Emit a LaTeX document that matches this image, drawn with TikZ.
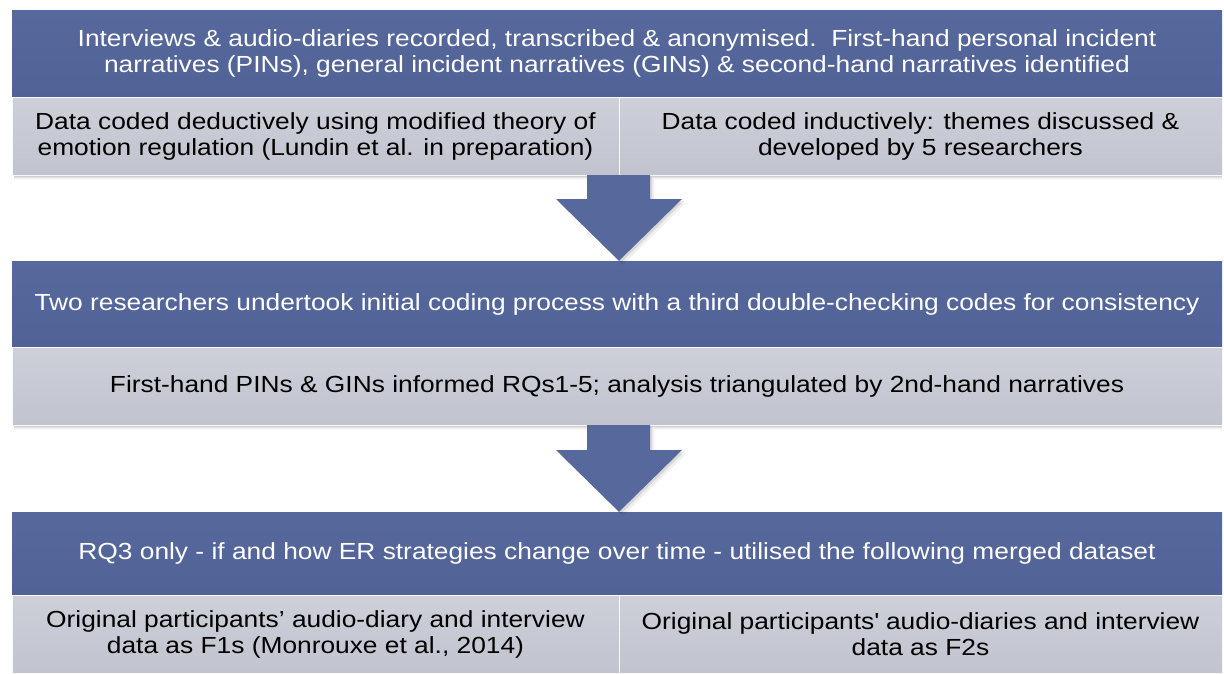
\documentclass[tikz,border=0pt]{standalone}
\usepackage{fontspec}
\setmainfont[FakeStretch=1.13]{Liberation Sans}
\definecolor{darkblue}{RGB}{86,104,156}
\definecolor{darkblue2}{RGB}{80,98,150}
\definecolor{lightg}{RGB}{205,208,217}
\definecolor{lightg2}{RGB}{193,196,206}
\begin{document}
\begin{tikzpicture}[x=1pt,y=-1pt,
  darkbox/.style={rectangle, inner sep=0pt, text=white, align=center,
    top color=darkblue, bottom color=darkblue2, font=\fontsize{23.3}{26.5}\selectfont},
  lightbox/.style={rectangle, inner sep=0pt, text=black, align=center,
    top color=lightg, bottom color=lightg2, draw=white!85!lightg, line width=0.6pt,
    font=\fontsize{23.3}{26}\selectfont},
  arrowshape/.style={fill=darkblue, draw=none},
  shadowlayer/.style={fill=black, draw=none}
]
\useasboundingbox (0,0) rectangle (1224,673);
% shadows under blocks
\foreach \d/\o in {1/0.10,2/0.08,3/0.06,4/0.04,5/0.02}{
  \fill[shadowlayer, opacity=\o] (14,175) rectangle (1222,175+\d);
  \fill[shadowlayer, opacity=\o] (14,425) rectangle (1222,425+\d);
}
% block 1
\node[darkbox, minimum width=1210pt, minimum height=87pt] (t1) at (617,53.5)
  {Interviews \& audio-diaries recorded, transcribed \& anonymised.\ \ First-hand personal incident\\
   narratives (PINs), general incident narratives (GINs) \& second-hand narratives identified};
\node[lightbox, minimum width=607pt, minimum height=78pt] (l1) at (315.5,136)
  {Data coded deductively using modified theory of\\ emotion regulation (Lundin et al. in preparation)};
\node[lightbox, minimum width=603pt, minimum height=78pt] (r1) at (920.5,136)
  {Data coded inductively: themes discussed \&\\ developed by 5 researchers};
% block 2
\node[darkbox, minimum width=1210pt, minimum height=86pt] (t2) at (617,304)
  {Two researchers undertook initial coding process with a third double-checking codes for consistency};
\node[lightbox, minimum width=1210pt, minimum height=78pt] (l2) at (617,386)
  {First-hand PINs \& GINs informed RQs1-5; analysis triangulated by 2nd-hand narratives};
% block 3
\node[darkbox, minimum width=1210pt, minimum height=83pt] (t3) at (617,553.5)
  {RQ3 only - if and how ER strategies change over time - utilised the following merged dataset};
\node[lightbox, minimum width=607pt, minimum height=78pt] (l3) at (315.5,634)
  {Original participants’ audio-diary and interview\\ data as F1s (Monrouxe et al., 2014)};
\node[lightbox, minimum width=603pt, minimum height=78pt] (r3) at (920.5,634)
  {Original participants\textquotesingle\ audio-diaries and interview\\ data as F2s};
% arrows
\coordinate (a1) at (619,175);
\coordinate (a2) at (619,425);
\coordinate (tip1) at (a1 |- t2.north);
\coordinate (tip2) at (a2 |- t3.north);
\foreach \s/\o in {2/0.10,4/0.06}{
\fill[black, opacity=\o] ([xshift=-32+\s,yshift=-\s]a1) -- ([xshift=31+\s,yshift=-\s]a1) -- ([xshift=31+\s,yshift=-24-\s]a1) -- ([xshift=63+\s,yshift=-24-\s]a1) -- ([xshift=\s,yshift=-\s]tip1) -- ([xshift=-63+\s,yshift=-24-\s]a1) -- ([xshift=-32+\s,yshift=-24-\s]a1) -- cycle;
\fill[black, opacity=\o] ([xshift=-32+\s,yshift=-\s]a2) -- ([xshift=31+\s,yshift=-\s]a2) -- ([xshift=31+\s,yshift=-25-\s]a2) -- ([xshift=63+\s,yshift=-25-\s]a2) -- ([xshift=\s,yshift=-\s]tip2) -- ([xshift=-63+\s,yshift=-25-\s]a2) -- ([xshift=-32+\s,yshift=-25-\s]a2) -- cycle;
}
\fill[arrowshape] ([xshift=-32]a1) -- ([xshift=31]a1) -- ([xshift=31,yshift=-24]a1) -- ([xshift=63,yshift=-24]a1) -- (tip1) -- ([xshift=-63,yshift=-24]a1) -- ([xshift=-32,yshift=-24]a1) -- cycle;
\fill[arrowshape] ([xshift=-32]a2) -- ([xshift=31]a2) -- ([xshift=31,yshift=-25]a2) -- ([xshift=63,yshift=-25]a2) -- (tip2) -- ([xshift=-63,yshift=-25]a2) -- ([xshift=-32,yshift=-25]a2) -- cycle;
\end{tikzpicture}
\end{document}
